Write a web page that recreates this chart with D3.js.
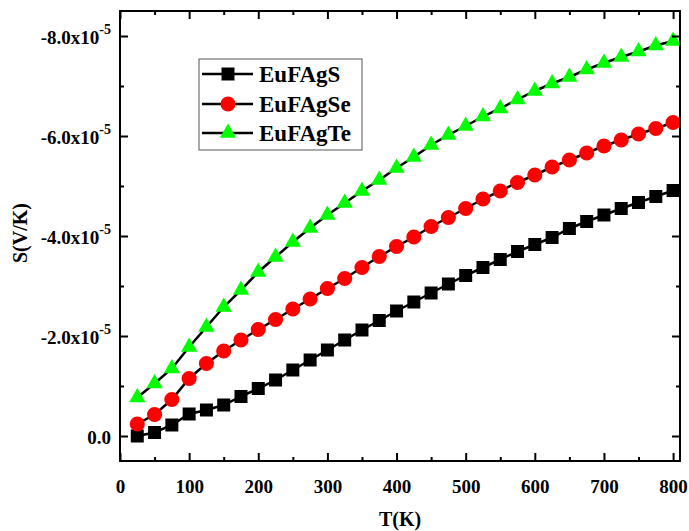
<!DOCTYPE html>
<html>
<head>
<meta charset="utf-8">
<script src="https://cdn.jsdelivr.net/npm/d3@7"></script>
<style>
  body { margin: 0; background: #fff; }
  text { font-family: "Liberation Serif", "Times New Roman", serif; font-weight: bold; }
</style>
</head>
<body>
<div id="chart"></div>
<script>
// temperatures (K)
var temps = [25, 50, 75, 100, 125, 150, 175, 200, 225, 250, 275, 300, 325, 350, 375, 400,
             425, 450, 475, 500, 525, 550, 575, 600, 625, 650, 675, 700, 725, 750, 775, 800];

// Seebeck coefficient, in units of 1e-5 V/K
var sEuFAgS = [0.00, -0.07, -0.22, -0.44, -0.52, -0.62, -0.79, -0.95, -1.12, -1.32, -1.52, -1.72, -1.92, -2.12, -2.31, -2.50,
               -2.68, -2.86, -3.04, -3.21, -3.37, -3.53, -3.69, -3.83, -3.97, -4.15, -4.29, -4.42, -4.55, -4.67, -4.79, -4.91];
var sEuFAgSe = [-0.24, -0.43, -0.73, -1.15, -1.45, -1.70, -1.92, -2.13, -2.33, -2.54, -2.74, -2.95, -3.15, -3.37, -3.59, -3.79,
                -3.98, -4.19, -4.37, -4.55, -4.74, -4.90, -5.07, -5.22, -5.38, -5.52, -5.66, -5.80, -5.92, -6.04, -6.15, -6.27];
var sEuFAgTe = [-0.77, -1.05, -1.35, -1.78, -2.18, -2.58, -2.92, -3.28, -3.58, -3.88, -4.16, -4.42, -4.66, -4.90, -5.12, -5.36,
                -5.58, -5.82, -6.02, -6.20, -6.39, -6.55, -6.73, -6.90, -7.05, -7.18, -7.33, -7.46, -7.58, -7.69, -7.81, -7.90];

var seriesNames = ["EuFAgS", "EuFAgSe", "EuFAgTe"];

// tick values
var xTicks = [0, 100, 200, 300, 400, 500, 600, 700, 800];
var xMinor = [50, 150, 250, 350, 450, 550, 650, 750];
var yTicks = [0, -2, -4, -6, -8];
var yMinor = [-1, -3, -5, -7];

function init() {

  var w = 689, h = 531;
  var left = 120, right = 680, top = 11, bottom = 461;

  var svg = d3.select("#chart").append("svg")
    .attr("width", w)
    .attr("height", h);

  var xScale = d3.scaleLinear().domain([0, 810]).range([left, right]);
  var yScale = d3.scaleLinear().domain([0.5, -8.5]).range([bottom, top]);

  var series = [
    { name: seriesNames[0], values: sEuFAgS, shape: d3.symbolSquare, size: 169, fill: "#000000" },
    { name: seriesNames[1], values: sEuFAgSe, shape: d3.symbolCircle, size: 180, fill: "#ff0000" },
    { name: seriesNames[2], values: sEuFAgTe, shape: d3.symbolTriangle, size: 115, fill: "#00ff00" }
  ];

  var line = d3.line()
    .x(function(d) { return xScale(d[0]); })
    .y(function(d) { return yScale(d[1]); });

  // data: line then symbols for each series
  series.forEach(function(s) {
    var pts = temps.map(function(t, i) { return [t, s.values[i]]; });

    svg.append("path")
      .datum(pts)
      .attr("fill", "none")
      .attr("stroke", "#000")
      .attr("stroke-width", 2.5)
      .attr("d", line);

    svg.append("g").selectAll("path")
      .data(pts)
      .enter()
      .append("path")
      .attr("transform", function(d) { return "translate(" + xScale(d[0]) + "," + yScale(d[1]) + ")"; })
      .attr("d", d3.symbol().type(s.shape).size(s.size))
      .attr("fill", s.fill);
  });

  // axes (ticks pointing inward)
  var xAxis = d3.axisBottom(xScale).tickValues(xTicks).tickSizeInner(-8).tickSizeOuter(0).tickPadding(19)
    .tickFormat(d3.format("d"));
  var xAxisMinor = d3.axisBottom(xScale).tickValues(xMinor).tickSizeInner(-4).tickSizeOuter(0).tickFormat("");
  var xTop = d3.axisTop(xScale).tickValues(xTicks).tickSizeInner(-8).tickSizeOuter(0).tickFormat("");
  var xTopMinor = d3.axisTop(xScale).tickValues(xMinor).tickSizeInner(-4).tickSizeOuter(0).tickFormat("");

  var yAxis = d3.axisLeft(yScale).tickValues(yTicks).tickSizeInner(-8).tickSizeOuter(0).tickFormat("");
  var yAxisMinor = d3.axisLeft(yScale).tickValues(yMinor).tickSizeInner(-4).tickSizeOuter(0).tickFormat("");
  var yRight = d3.axisRight(yScale).tickValues(yTicks).tickSizeInner(-8).tickSizeOuter(0).tickFormat("");
  var yRightMinor = d3.axisRight(yScale).tickValues(yMinor).tickSizeInner(-4).tickSizeOuter(0).tickFormat("");

  function place(axis, tr) {
    var g = svg.append("g").attr("transform", tr).call(axis);
    g.select(".domain").remove();
    g.selectAll("line").attr("stroke", "#000").attr("stroke-width", 2);
    return g;
  }

  var gx = place(xAxis, "translate(0," + bottom + ")");
  place(xAxisMinor, "translate(0," + bottom + ")");
  place(xTop, "translate(0," + top + ")");
  place(xTopMinor, "translate(0," + top + ")");
  var gy = place(yAxis, "translate(" + left + ",0)");
  place(yAxisMinor, "translate(" + left + ",0)");
  place(yRight, "translate(" + right + ",0)");
  place(yRightMinor, "translate(" + right + ",0)");

  gx.selectAll("text")
    .style("font-family", "'Liberation Serif', serif")
    .style("font-weight", "bold")
    .style("font-size", "19px")
    .attr("fill", "#000");

  // y tick labels with superscript exponent
  gy.selectAll(".tick").each(function(d) {
    var t = d3.select(this).append("text")
      .attr("x", -9)
      .attr("y", 0)
      .attr("dy", "0.42em")
      .attr("text-anchor", "end")
      .attr("fill", "#000")
      .style("font-size", "19px");
    if (d === 0) {
      t.text("0.0");
    } else {
      t.append("tspan").text(d.toFixed(1) + "x10");
      t.append("tspan").attr("dy", -10).style("font-size", "14px").text("-5");
    }
  });

  // frame
  svg.append("rect")
    .attr("x", left).attr("y", top)
    .attr("width", right - left).attr("height", bottom - top)
    .attr("fill", "none")
    .attr("stroke", "#000")
    .attr("stroke-width", 2);

  // axis titles
  svg.append("text")
    .attr("x", (left + right) / 2)
    .attr("y", 526)
    .attr("text-anchor", "middle")
    .style("font-size", "20px")
    .text("T(K)");

  svg.append("text")
    .attr("transform", "translate(27,233) rotate(-90)")
    .attr("text-anchor", "middle")
    .style("font-size", "20px")
    .text("S(V/K)");

  // legend
  var legend = svg.append("g");
  legend.append("rect")
    .attr("x", 199).attr("y", 59)
    .attr("width", 163).attr("height", 91)
    .attr("fill", "#fff")
    .attr("stroke", "#555")
    .attr("stroke-width", 1);

  var rowY = [74, 104, 133];
  series.forEach(function(s, i) {
    legend.append("line")
      .attr("x1", 202).attr("x2", 253)
      .attr("y1", rowY[i]).attr("y2", rowY[i])
      .attr("stroke", "#000").attr("stroke-width", 2.5);
    legend.append("path")
      .attr("transform", "translate(228," + rowY[i] + ")")
      .attr("d", d3.symbol().type(s.shape).size(s.size))
      .attr("fill", s.fill);
    legend.append("text")
      .attr("x", 259)
      .attr("y", rowY[i])
      .attr("dy", "0.35em")
      .style("font-size", "23px")
      .text(s.name);
  });
}

window.onload = init;
</script>
</body>
</html>
